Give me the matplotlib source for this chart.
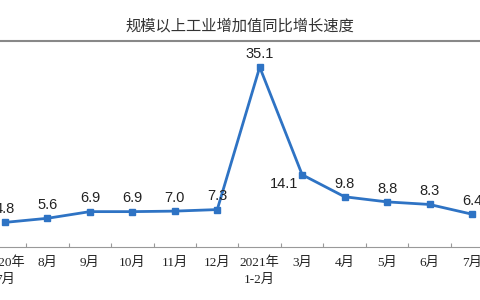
import matplotlib
matplotlib.use('Agg')
import matplotlib.pyplot as plt
import numpy as np

# categories and values
months = ['2020年\n7月', '8月', '9月', '10月', '11月', '12月', '2021年\n1-2月',
          '3月', '4月', '5月', '6月', '7月']
growth = [4.8, 5.6, 6.9, 6.9, 7.0, 7.3, 35.1, 14.1, 9.8, 8.8, 8.3, 6.4]
title = '规模以上工业增加值同比增长速度'

cjk_sans = ['Noto Sans CJK SC', 'DejaVu Sans']
cjk_serif = ['Liberation Serif', 'Noto Sans CJK SC']

fig = plt.figure(figsize=(4.8, 3.0), dpi=100)
fig.patch.set_facecolor('white')

# axes runs a bit past the figure edges (the picture is cropped)
ax = fig.add_axes([-0.0338, 0.1767, 1.0613, 0.6867])
x = np.arange(len(months))
ax.plot(x, growth, color='#2e73c4', lw=2.0, marker='s', ms=4.5,
        markerfacecolor='#2e73c4', markeredgecolor='#2e73c4', clip_on=False)

ax.set_xlim(-0.5, len(months) - 0.5)
ax.set_ylim(0, 40.2)

for i, v in enumerate(growth):
    if v == 14.1:
        ax.annotate(f'{v:.1f}', (i, v), xytext=(-3, -6.5), textcoords='offset points',
                    ha='right', va='center', fontsize=10.5, color='#222222',
                    family=['Liberation Sans', 'DejaVu Sans'])
    else:
        ax.annotate(f'{v:.1f}', (i, v), xytext=(0, 9.5), textcoords='offset points',
                    ha='center', va='center', fontsize=10.5, color='#222222',
                    family=['Liberation Sans', 'DejaVu Sans'])

# ticks between categories, labels under categories
ax.set_xticks(np.arange(len(months) + 1) - 0.5)
ax.set_xticklabels([])
ax.set_xticks(x, minor=True)
ax.set_xticklabels(months, minor=True, family=cjk_serif, fontsize=9.5, color='#222222',
                   linespacing=1.45)
ax.tick_params(axis='x', which='major', direction='in', length=3, color='#999999')
ax.tick_params(axis='x', which='minor', length=0, pad=7)
ax.set_yticks([])

for s in ['left', 'right']:
    ax.spines[s].set_visible(False)
ax.spines['bottom'].set_color('#999999')
ax.spines['top'].set_color('#888888')
ax.spines['top'].set_linewidth(1.5)

fig.text(0.5, 0.915, title, ha='center', va='center', fontsize=11,
         color='#333333', family=cjk_sans)

fig.savefig('out.png', dpi=100, facecolor='white')
